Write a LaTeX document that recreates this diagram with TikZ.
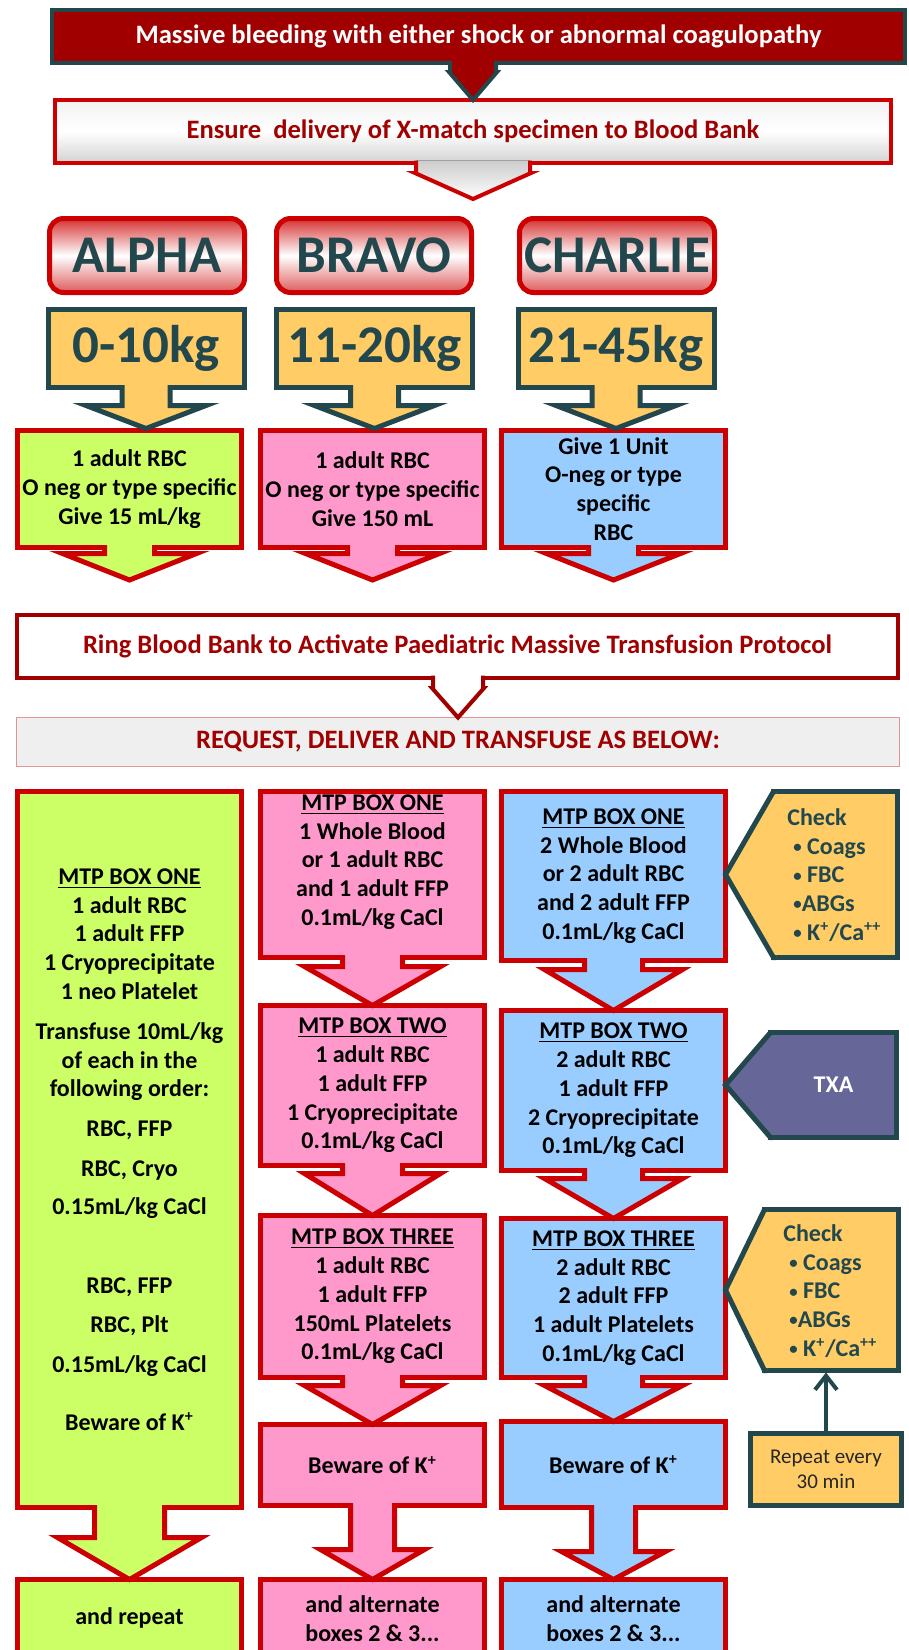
\documentclass[tikz,border=0pt]{standalone}
\usepackage{fontspec}
\usepackage{graphicx}
\setmainfont{Carlito}
\usetikzlibrary{arrows.meta, calc}
\definecolor{bloodRed}{RGB}{160, 0, 0}
\definecolor{borderRed}{RGB}{204, 0, 0}
\definecolor{tealDark}{RGB}{34, 71, 77}
\definecolor{limeFill}{RGB}{204, 255, 102}
\definecolor{pinkFill}{RGB}{255, 153, 204}
\definecolor{skyFill}{RGB}{153, 204, 255}
\definecolor{amberFill}{RGB}{255, 204, 102}
\definecolor{txaPurple}{RGB}{102, 102, 153}
\definecolor{requestGray}{RGB}{239, 239, 239}
\definecolor{requestLine}{RGB}{224, 150, 150}
\definecolor{fadeRed}{RGB}{214, 50, 50}

% down pointer under a box: [style]{box}{tip}{stem half}{head half}{stem length}
\newcommand{\boxdrop}[6][]{%
  \filldraw[#1] ($(#2.south -| #3)+(-#4,-2.5)$) -- ($(#2.south -| #3)+(-#4,#6)$)
    -- ($(#2.south -| #3)+(-#5,#6)$) -- (#3) -- ($(#2.south -| #3)+(#5,#6)$)
    -- ($(#2.south -| #3)+(#4,#6)$) -- ($(#2.south -| #3)+(#4,-2.5)$);}
% left pointer of a side box: [style]{box}{tip}
\newcommand{\boxpoint}[3][]{%
  \filldraw[#1] ($(#2.north west)+(2.5,0)$) -- (#2.north west) -- (#3)
    -- (#2.south west) -- ($(#2.south west)+(2.5,0)$);}
\newcommand{\chkdot}{\raisebox{0.9pt}{\scalebox{0.7}{\textbullet}}}

\tikzset{
  basebox/.style={outer sep=0pt, inner sep=0pt, align=center},
  headfont/.style={font=\bfseries\fontsize{13.3}{16}\selectfont},
  boxfont/.style={font=\bfseries\fontsize{12}{14.4}\selectfont},
  bigfont/.style={font=\bfseries\fontsize{26.5}{30}\selectfont},
  redbox/.style={basebox, boxfont, draw=borderRed, line width=2.5pt, minimum width=112pt},
  limebox/.style={redbox, fill=limeFill},
  pinkbox/.style={redbox, fill=pinkFill},
  skybox/.style={redbox, fill=skyFill},
  teambox/.style={basebox, bigfont, draw=borderRed, line width=2.5pt, rounded corners=7pt,
    top color=fadeRed, bottom color=fadeRed!80, middle color=white,
    minimum width=97.5pt, minimum height=37pt, text=tealDark},
  weightbox/.style={basebox, bigfont, draw=tealDark, line width=2.5pt, fill=amberFill,
    minimum width=98pt, minimum height=39pt, text=tealDark},
  sidebox/.style={basebox, draw=tealDark, line width=2.5pt, fill=amberFill},
  checktext/.style={align=left, inner sep=0pt, boxfont, text=tealDark},
  limearrow/.style={draw=borderRed, fill=limeFill, line width=2.5pt},
  pinkarrow/.style={draw=borderRed, fill=pinkFill, line width=2.5pt},
  skyarrow/.style={draw=borderRed, fill=skyFill, line width=2.5pt},
  amberarrow/.style={draw=tealDark, fill=amberFill, line width=2.5pt}
}

\begin{document}
\begin{tikzpicture}[x=0.5pt, y=-0.5pt]
\useasboundingbox (0,0) rectangle (909,1650);
\clip (0,0) rectangle (909,1650);

% Header boxes
\node[basebox, headfont, draw=tealDark, fill=bloodRed, line width=2pt, text=white,
  minimum width=426.5pt, minimum height=26.5pt] (massive) at (478.5,36.5)
  {Massive bleeding with either shock or abnormal coagulopathy};
\node[basebox, headfont, draw=borderRed, line width=2pt, text=bloodRed,
  top color=gray!10, bottom color=gray!35, middle color=white,
  minimum width=418pt, minimum height=31.5pt] (ensure) at (473,131.5)
  {Ensure~ delivery of X-match specimen to Blood Bank};
\coordinate (ensuretip) at (473,199);

% Weight teams
\node[teambox] (alpha) at (147,255.5) {ALPHA};
\node[teambox] (bravo) at (374,255.5) {BRAVO};
\node[teambox] (charlie) at (617,255.5) {CHARLIE};
\node[weightbox] (w1) at (146,348.5) {0-10kg};
\node[weightbox] (w2) at (374.5,348.5) {11-20kg};
\node[weightbox] (w3) at (616,348.5) {21-45kg};

% First red cells
\node[limebox, minimum height=58.5pt] (g1) at (129.5,489) {1 adult RBC\\O neg or type specific\\Give 15 mL/kg};
\node[pinkbox, minimum height=58.5pt] (p1) at (372.5,489) {1 adult RBC\\O neg or type specific\\Give 150 mL};
\node[skybox, minimum height=58.5pt] (b1) at (613.5,489) {Give 1 Unit\\O-neg or type\\specific\\RBC};
\coordinate (g1tip) at (129.5,580);
\coordinate (p1tip) at (372.5,580);
\coordinate (b1tip) at (613.5,580);

% Activation
\node[basebox, headfont, draw=bloodRed, line width=2pt, fill=white, text=bloodRed,
  minimum width=440.5pt, minimum height=31.5pt] (ring) at (457.5,646.5)
  {Ring Blood Bank to Activate Paediatric Massive Transfusion Protocol};
\node[basebox, headfont, draw=requestLine, line width=0.5pt, fill=requestGray, text=bloodRed,
  minimum width=441.5pt, minimum height=24.5pt] (request) at (458,742)
  {REQUEST, DELIVER AND TRANSFUSE AS BELOW:};

% MTP boxes
\node[limebox, minimum height=358pt] (gmtp) at (129.5,1149.5)
  {\underline{MTP BOX ONE}\\1 adult RBC\\1 adult FFP\\1 Cryoprecipitate\\1 neo Platelet\\[5.5pt]
   Transfuse 10mL/kg\\of each in the\\following order:\\[5.5pt]RBC, FFP\\[5.5pt]RBC, Cryo\\[4.5pt]
   0.15mL/kg CaCl\\[25pt]RBC, FFP\\[5.5pt]RBC, Plt\\[5.5pt]0.15mL/kg CaCl\\[14.5pt]
   Beware of K\textsuperscript{+}};
\node[limebox, minimum height=38.75pt] (grep) at (129.5,1618.25) {and repeat};

\node[pinkbox, minimum height=83pt] (pk1) at (372.5,874.5)
  {\underline{MTP BOX ONE}\\1 Whole Blood\\or 1 adult RBC\\and 1 adult FFP\\0.1mL/kg CaCl\\[0pt]\mbox{}};
\node[pinkbox, minimum height=80pt] (pk2) at (372.5,1085.5)
  {\underline{MTP BOX TWO}\\1 adult RBC\\1 adult FFP\\1 Cryoprecipitate\\0.1mL/kg CaCl};
\node[pinkbox, minimum height=81pt] (pk3) at (372.5,1296.5)
  {\underline{MTP BOX THREE}\\1 adult RBC\\1 adult FFP\\150mL Platelets\\0.1mL/kg CaCl};
\node[pinkbox, minimum height=40.5pt] (pkk) at (372.5,1465) {Beware of K\textsuperscript{+}};
\node[pinkbox, minimum height=38.75pt] (pkl) at (372.5,1618.25) {and alternate\\boxes 2 \& 3...};

\node[skybox, minimum height=84.5pt] (bl1) at (613.5,876)
  {\underline{MTP BOX ONE}\\2 Whole Blood\\or 2 adult RBC\\and 2 adult FFP\\0.1mL/kg CaCl};
\node[skybox, minimum height=80pt] (bl2) at (613.5,1090.5)
  {\underline{MTP BOX TWO}\\2 adult RBC\\1 adult FFP\\2 Cryoprecipitate\\0.1mL/kg CaCl};
\node[skybox, minimum height=79.5pt] (bl3) at (613.5,1298)
  {\underline{MTP BOX THREE}\\2 adult RBC\\2 adult FFP\\1 adult Platelets\\0.1mL/kg CaCl};
\node[skybox, minimum height=43pt] (blk) at (613.5,1464.5) {Beware of K\textsuperscript{+}};
\node[skybox, minimum height=38.75pt] (bll) at (613.5,1618.25) {and alternate\\boxes 2 \& 3...};

% Side boxes
\node[sidebox, minimum width=62pt, minimum height=83pt] (chk1) at (835.5,874.5) {};
\node[sidebox, fill=txaPurple, boxfont, text=white, minimum width=63pt, minimum height=52.5pt] (txa) at (833.5,1085) {TXA};
\node[sidebox, minimum width=67pt, minimum height=80.5pt] (chk2) at (831.5,1290) {};
\node[sidebox, font=\fontsize{10.5}{12.6}\selectfont, text=black!85, minimum width=75.5pt, minimum height=36pt] (rpt) at (826,1469.5) {Repeat every\\30 min};

% Pointers
\boxdrop[draw=tealDark, fill=bloodRed, line width=2pt]{massive}{ensure.north}{23}{24}{9}
\boxdrop[draw=borderRed, line width=2pt, top color=gray!40, bottom color=white]{ensure}{ensuretip}{57}{58}{10}
\coordinate (w1tip) at ($(w1.south |- g1.north)+(0,-2)$);
\coordinate (w2tip) at ($(w2.south |- p1.north)+(0,-2)$);
\coordinate (w3tip) at ($(w3.south |- b1.north)+(0,-2)$);
\boxdrop[amberarrow]{w1}{w1tip}{24}{60}{18}
\boxdrop[amberarrow]{w2}{w2tip}{24}{60}{18}
\boxdrop[amberarrow]{w3}{w3tip}{24}{60}{18}
\boxdrop[limearrow]{g1}{g1tip}{25}{67}{6}
\boxdrop[pinkarrow]{p1}{p1tip}{25}{67}{6}
\boxdrop[skyarrow]{b1}{b1tip}{25}{67}{6}
\boxdrop[draw=bloodRed, fill=white, line width=2pt]{ring}{request.north}{25}{26}{10}

\boxdrop[limearrow]{gmtp}{grep.north}{35}{72}{30}
\boxdrop[pinkarrow]{pk1}{pk2.north}{30}{68}{9}
\boxdrop[pinkarrow]{pk2}{pk3.north}{30}{68}{8}
\boxdrop[pinkarrow]{pk3}{pkk.north}{30}{68}{8}
\boxdrop[pinkarrow]{pkk}{pkl.north}{22}{52}{44}
\boxdrop[skyarrow]{bl1}{bl2.north}{29}{69}{9}
\boxdrop[skyarrow]{bl2}{bl3.north}{29}{69}{8}
\boxdrop[skyarrow]{bl3}{blk.north}{29}{69}{8}
\boxdrop[skyarrow]{blk}{bll.north}{22}{52}{44}

\coordinate (chk1tip) at (bl1.east |- chk1.west);
\coordinate (txatip) at (bl2.east |- txa.west);
\coordinate (chk2tip) at (bl3.east |- chk2.west);
\boxpoint[amberarrow]{chk1}{chk1tip}
\boxpoint[draw=tealDark, fill=txaPurple, line width=2.5pt]{txa}{txatip}
\boxpoint[amberarrow]{chk2}{chk2tip}

% Check lists
\node[checktext, anchor=west] (chk1t) at (787,875)
  {Check\\\hspace*{3pt}\chkdot{} Coags\\\hspace*{3pt}\chkdot{} FBC\\\hspace*{3pt}\chkdot ABGs\\\hspace*{3pt}\chkdot{} K\textsuperscript{+}/Ca\textsuperscript{++}};
\node[checktext, anchor=west] (chk2t) at (783,1291)
  {Check\\\hspace*{3pt}\chkdot{} Coags\\\hspace*{3pt}\chkdot{} FBC\\\hspace*{3pt}\chkdot ABGs\\\hspace*{3pt}\chkdot{} K\textsuperscript{+}/Ca\textsuperscript{++}};

% Repeat arrow
\draw[tealDark, line width=2pt, shorten >=1pt, -{Straight Barb[length=7pt, width=11pt]}] (rpt.north) -- (rpt.north |- chk2.south);
\end{tikzpicture}
\end{document}
